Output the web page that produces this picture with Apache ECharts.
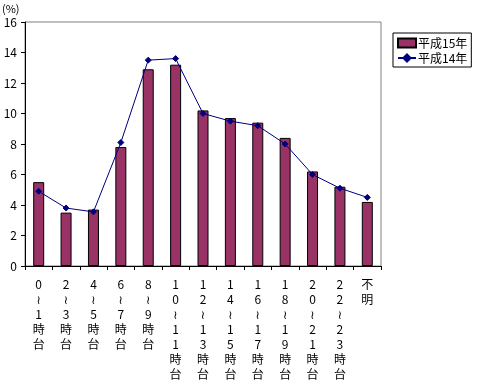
<!DOCTYPE html>
<html>
<head>
<meta charset="utf-8">
<script src="https://cdn.jsdelivr.net/npm/echarts@6/dist/echarts.min.js"></script>
<style>html,body{margin:0;padding:0;background:#fff}#c{width:479px;height:384px}</style>
</head>
<body>
<div id="c"></div>
<script>
var categories = ['0≀1時台','2≀3時台','4≀5時台','6≀7時台','8≀9時台','10≀11時台','12≀13時台','14≀15時台','16≀17時台','18≀19時台','20≀21時台','22≀23時台','不明'];
var h15 = [5.5, 3.5, 3.7, 7.8, 12.9, 13.2, 10.2, 9.7, 9.4, 8.4, 6.2, 5.2, 4.2];
var h14 = [4.9, 3.8, 3.55, 8.1, 13.5, 13.6, 10.0, 9.5, 9.2, 8.0, 6.0, 5.1, 4.5];
var seriesNames = ['平成15年', '平成14年'];
var yTicks = [0, 2, 4, 6, 8, 10, 12, 14, 16];

var FONT = '"Noto Sans CJK JP", "DejaVu Sans", sans-serif';
var chart = echarts.init(document.getElementById('c'), null, {renderer: 'canvas'});
chart.setOption({
  animation: false,
  backgroundColor: '#fff',
  textStyle: {fontFamily: FONT},
  graphic: [{type: 'text', left: 2, top: 3, style: {text: '(%)', fontSize: 11, fontFamily: FONT, fill: '#000'}}],
  grid: {left: 25, right: 98, top: 22, bottom: 118, show: true, borderColor: '#808080', borderWidth: 1, backgroundColor: 'transparent'},
  legend: {
    orient: 'vertical', left: 393, top: 33,
    borderColor: '#000', borderWidth: 1, padding: [4, 4, 3, 4], itemGap: 3,
    itemWidth: 18, itemHeight: 9,
    textStyle: {fontSize: 12, fontFamily: FONT, color: '#000', padding: [0,0,0,-3]},
    data: [
      {name: seriesNames[0], icon: 'rect'},
      {name: seriesNames[1]}
    ]
  },
  xAxis: {
    type: 'category', data: categories, boundaryGap: true,
    axisLine: {lineStyle: {color: '#000', width: 1}},
    axisTick: {show: true, length: 4, inside: false, alignWithLabel: false, lineStyle: {color: '#000'}},
    axisLabel: {
      interval: 0, margin: 11, fontSize: 12, lineHeight: 15, color: '#000', fontFamily: FONT,
      verticalAlign: 'top',
      formatter: function (v) { return v.split('').join('\n'); }
    }
  },
  yAxis: {
    type: 'value', min: 0, max: 16, interval: 2,
    axisLine: {show: true, lineStyle: {color: '#000', width: 1}},
    axisTick: {show: true, length: 4, inside: false, lineStyle: {color: '#000'}},
    splitLine: {show: false},
    axisLabel: {margin: 8, fontSize: 12, color: '#000', fontFamily: FONT,
      formatter: function (v) { return yTicks.indexOf(v) >= 0 ? String(v) : ''; }}
  },
  series: [
    {
      name: seriesNames[0], type: 'bar', data: h15, barWidth: 11,
      itemStyle: {color: '#993366', borderColor: '#000', borderWidth: 1}
    },
    {
      name: seriesNames[1], type: 'line', data: h14,
      symbol: 'diamond', symbolSize: 6, showSymbol: true,
      lineStyle: {color: '#000080', width: 1},
      itemStyle: {color: '#000080', borderColor: '#000080', borderWidth: 1}
    }
  ]
});
</script>
</body>
</html>
